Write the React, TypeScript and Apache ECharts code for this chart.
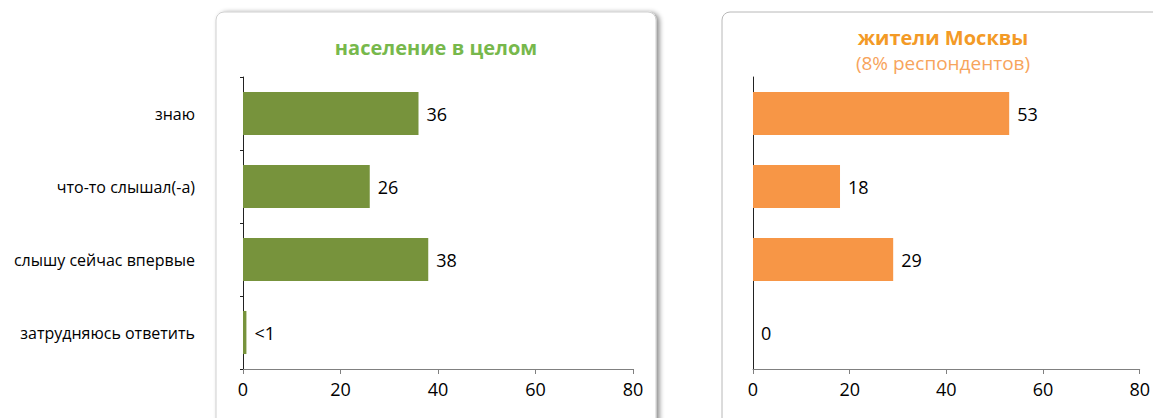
import React, { useEffect, useRef } from "react";
import * as echarts from "echarts";

const categories = ["знаю", "что-то слышал(-а)", "слышу сейчас впервые", "затрудняюсь ответить"];
const populationValues = [36, 26, 38, 0.7];
const populationLabels = ["36", "26", "38", "<1"];
const moscowValues = [53, 18, 29, 0];
const moscowLabels = ["53", "18", "29", "0"];
const xTicks = [0, 20, 40, 60, 80];
const leftTitle = "население в целом";
const rightTitle = "жители Москвы";
const rightSubtitle = "(8% респондентов)";

const FONT = "'Open Sans', 'Noto Sans', sans-serif";

export default function App() {
  const ref = useRef<HTMLDivElement>(null);
  useEffect(() => {
    document.body.style.margin = "0";
    if (!ref.current) return;
    const chart = echarts.init(ref.current, undefined, { renderer: "svg" });
    const xAxisBase = (gridIndex: number) => ({
      type: "value" as const,
      gridIndex,
      min: xTicks[0],
      max: xTicks[xTicks.length - 1],
      interval: 20,
      splitLine: { show: false },
      axisLine: { show: true, lineStyle: { color: "#808080", width: 1 } },
      axisTick: { show: true, length: 5, lineStyle: { color: "#808080" } },
      axisLabel: { color: "#000", fontSize: 18, fontFamily: FONT, margin: 11 },
    });
    const yAxisBase = (gridIndex: number, showLabels: boolean, showTicks: boolean) => ({
      type: "category" as const,
      gridIndex,
      data: categories,
      inverse: true,
      axisLine: { show: true, lineStyle: { color: "#222", width: 1 } },
      axisTick: { show: showTicks, length: 3, lineStyle: { color: "#222" } },
      axisLabel: {
        show: showLabels,
        color: "#000",
        fontSize: 16,
        fontFamily: FONT,
        margin: 48,
      },
    });
    chart.setOption({
      animation: false,
      backgroundColor: "#fff",
      graphic: [
        {
          type: "rect",
          shape: { x: 216, y: 12, width: 440, height: 420, r: 8 },
          style: {
            fill: "#fff",
            stroke: "#cfcfcf",
            lineWidth: 1,
            shadowColor: "rgba(0,0,0,0.45)",
            shadowBlur: 5,
            shadowOffsetX: 3,
            shadowOffsetY: 1,
          },
          z: -10,
        },
        {
          type: "rect",
          shape: { x: 722, y: 12, width: 460, height: 420, r: 8 },
          style: {
            fill: "#fff",
            stroke: "#b8b8b8",
            lineWidth: 1,
          },
          z: -10,
        },
        {
          type: "text",
          style: {
            text: leftTitle,
            x: 436,
            y: 47,
            align: "center",
            verticalAlign: "middle",
            fill: "#77b84c",
            fontSize: 20,
            fontWeight: "bold",
            fontFamily: FONT,
          },
        },
        {
          type: "text",
          style: {
            text: rightTitle,
            x: 943,
            y: 37,
            align: "center",
            verticalAlign: "middle",
            fill: "#f39a26",
            fontSize: 20,
            fontWeight: "bold",
            fontFamily: FONT,
          },
        },
        {
          type: "text",
          style: {
            text: rightSubtitle,
            x: 943,
            y: 63,
            align: "center",
            verticalAlign: "middle",
            fill: "#f7a45c",
            fontSize: 19,
            fontFamily: FONT,
          },
        },
      ],
      grid: [
        { left: 243, right: 520, top: 77, bottom: 49 },
        { left: 753, right: 11, top: 77, bottom: 49 },
      ],
      xAxis: [xAxisBase(0), xAxisBase(1)],
      yAxis: [yAxisBase(0, true, true), yAxisBase(1, false, false)],
      series: [
        {
          type: "bar",
          xAxisIndex: 0,
          yAxisIndex: 0,
          data: populationValues,
          barWidth: "59%",
          itemStyle: { color: "#77933c" },
          label: {
            show: true,
            position: "right",
            distance: 8,
            color: "#000",
            fontSize: 18,
            fontFamily: FONT,
            formatter: (p: any) => populationLabels[p.dataIndex],
          },
        },
        {
          type: "bar",
          xAxisIndex: 1,
          yAxisIndex: 1,
          data: moscowValues,
          barWidth: "59%",
          itemStyle: { color: "#f79646" },
          label: {
            show: true,
            position: "right",
            distance: 8,
            color: "#000",
            fontSize: 18,
            fontFamily: FONT,
            formatter: (p: any) => moscowLabels[p.dataIndex],
          },
        },
      ],
    });
    return () => chart.dispose();
  }, []);
  return <div ref={ref} style={{ width: 1153, height: 418 }} />;
}
